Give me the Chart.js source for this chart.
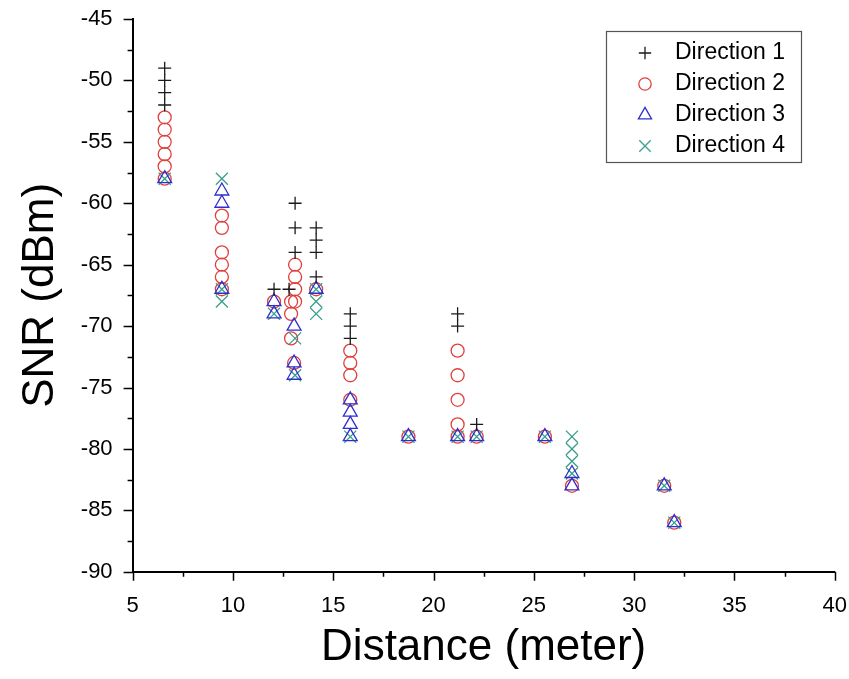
<!DOCTYPE html>
<html><head><meta charset="utf-8">
<script src="https://cdn.jsdelivr.net/npm/chart.js@4/dist/chart.umd.min.js"></script>
<style>html,body{margin:0;padding:0;background:#fff}#wrap{width:849px;height:679px;position:relative}</style>
</head><body><div id="wrap"><canvas id="c"></canvas></div>
<script>
// ---- data ----
const seriesNames = ['Direction 1', 'Direction 2', 'Direction 3', 'Direction 4'];

const dir1Distance = [6.6, 6.6, 6.6, 6.6, 12.05, 12.8, 13.1, 13.1, 13.1, 14.15, 14.15, 14.15, 14.15, 15.85, 15.85, 15.85, 21.2, 21.2, 22.15];
const dir1SNR      = [-49, -50, -51, -52, -67,   -67,  -60,  -62,  -64,  -62,   -63,   -64,   -66,   -69,   -70,   -71,   -69,  -70,  -78];

const dir2Distance = [6.6, 6.6, 6.6, 6.6, 6.6, 6.6, 9.45, 9.45, 9.45, 9.45, 9.45, 9.45, 12.05, 13.1, 13.1, 13.1, 13.1, 12.9, 12.9, 12.9, 13.05, 14.15, 15.85, 15.85, 15.85, 15.85, 18.75, 21.2, 21.2, 21.2, 21.2, 21.2, 22.15, 25.55, 26.9, 31.5, 32.0];
const dir2SNR      = [-53, -54, -55, -56, -57, -58, -61,  -62,  -64,  -65,  -66,  -67,  -68,   -65,  -66,  -67,  -68,  -68,  -69,  -71,  -73,   -67,   -72,   -73,   -74,   -76,   -79,   -72,  -74,  -76,  -78,  -79,  -79,   -79,   -83,  -83,  -86];

const dir3Distance = [6.6, 9.45, 9.45, 9.45, 12.05, 12.05, 13.05, 13.05, 13.05, 14.15, 15.85, 15.85, 15.85, 15.85, 18.75, 21.2, 22.15, 25.55, 26.9, 26.9, 31.5, 32.0];
const dir3SNR      = [-58, -59,  -60,  -67,  -68,   -69,   -70,   -73,   -74,   -67,   -76,   -77,   -78,   -79,   -79,   -79,  -79,   -79,   -82,  -83,  -83,  -86];

const dir4Distance = [6.6, 9.45, 9.45, 9.45, 12.05, 13.1, 13.1, 14.15, 14.15, 14.15, 15.85, 18.75, 21.2, 22.15, 25.55, 26.9, 26.9, 26.9, 26.9, 31.5, 32.0];
const dir4SNR      = [-58, -58,  -67,  -68,  -69,   -71,  -74,  -67,   -68,   -69,   -79,   -79,   -79,  -79,   -79,   -79,  -80,  -81,  -82,  -83,  -86];

const xTickValues = [5, 10, 15, 20, 25, 30, 35, 40];
const yTickValues = [-90, -85, -80, -75, -70, -65, -60, -55, -50, -45];

const seriesColors = ['#1a1a1a', '#e0403c', '#2f2fd0', '#3b9f8e'];
const seriesStyles = ['cross', 'circle', 'triangle', 'crossRot'];
const seriesRadius = [6.5, 6.5, 8, 8.5];
const drawOrder = [0, 3, 1, 2];

function pts(xs, ys) { return xs.map((x, i) => ({x: x, y: ys[i]})); }
const allData = [pts(dir1Distance, dir1SNR), pts(dir2Distance, dir2SNR), pts(dir3Distance, dir3SNR), pts(dir4Distance, dir4SNR)];

function markerCanvas(i) {
  const c = document.createElement('canvas');
  c.width = 60; c.height = 26;
  const ctx = c.getContext('2d');
  ctx.strokeStyle = seriesColors[i];
  ctx.fillStyle = 'rgba(0,0,0,0)';
  ctx.lineWidth = 1.3;
  Chart.helpers.drawPoint(ctx, {pointStyle: seriesStyles[i], radius: seriesRadius[i] * 0.95, rotation: 0, borderWidth: 1.3}, 30 - 8, 13);
  return c;
}

const FONT = 'Arial, "Liberation Sans", sans-serif';

const decor = {
  id: 'decor',
  afterLayout(chart) {
    const lg = chart.legend;
    const w = lg.width, h = lg.height;
    lg.left = 634.5; lg.top = 33.5;
    lg.right = lg.left + w; lg.bottom = lg.top + h;
  },
  afterDraw(chart) {
    const ctx = chart.ctx;
    const xs = chart.scales.x, ys = chart.scales.y;
    const area = chart.chartArea;
    ctx.save();
    ctx.strokeStyle = '#000';
    ctx.lineWidth = 1.5;
    ctx.beginPath();
    // major ticks
    xTickValues.forEach(v => {
      const p = Math.round(xs.getPixelForValue(v)) + 0.5;
      ctx.moveTo(p, area.bottom); ctx.lineTo(p, area.bottom + 9);
    });
    yTickValues.forEach(v => {
      const p = Math.round(ys.getPixelForValue(v)) + 0.5;
      ctx.moveTo(area.left - 9, p); ctx.lineTo(area.left, p);
    });
    // minor ticks
    for (let i = 0; i < xTickValues.length - 1; i++) {
      const p = Math.round(xs.getPixelForValue((xTickValues[i] + xTickValues[i + 1]) / 2)) + 0.5;
      ctx.moveTo(p, area.bottom); ctx.lineTo(p, area.bottom + 5);
    }
    for (let i = 0; i < yTickValues.length - 1; i++) {
      const p = Math.round(ys.getPixelForValue((yTickValues[i] + yTickValues[i + 1]) / 2)) + 0.5;
      ctx.moveTo(area.left - 5, p); ctx.lineTo(area.left, p);
    }
    ctx.stroke();
    // legend frame
    ctx.strokeStyle = '#555';
    ctx.lineWidth = 1.2;
    ctx.strokeRect(606.5, 31.5, 195, 131);
    ctx.restore();
  }
};

new Chart(document.getElementById('c'), {
  type: 'scatter',
  data: {
    datasets: allData.map((d, i) => ({
      label: seriesNames[i],
      data: d,
      pointStyle: seriesStyles[i],
      pointRadius: seriesRadius[i],
      pointHoverRadius: seriesRadius[i],
      borderColor: seriesColors[i],
      backgroundColor: 'rgba(0,0,0,0)',
      pointBorderWidth: 1.3,
      order: drawOrder[i]
    }))
  },
  options: {
    responsive: true,
    maintainAspectRatio: false,
    animation: false,
    layout: {padding: {left: 14, right: 0, top: 19, bottom: 5}},
    plugins: {
      legend: {
        position: 'chartArea',
        align: 'start',
        labels: {
          usePointStyle: true,
          boxWidth: 21,
          boxHeight: 10,
          padding: 8,
          color: '#000',
          font: {family: FONT, size: 23},
          sort: (a, b) => a.datasetIndex - b.datasetIndex,
          generateLabels(chart) {
            const items = Chart.defaults.plugins.legend.labels.generateLabels(chart);
            items.forEach(it => { it.pointStyle = markerCanvas(it.datasetIndex); });
            return items;
          }
        }
      },
      tooltip: {enabled: false}
    },
    scales: {
      x: {
        type: 'linear', min: 5, max: 40,
        afterBuildTicks(s) { s.ticks = xTickValues.map(v => ({value: v})); },
        ticks: {color: '#000', font: {family: FONT, size: 22}, padding: 2, maxRotation: 0},
        grid: {drawOnChartArea: false, drawTicks: true, tickLength: 19, tickColor: 'rgba(0,0,0,0)'},
        border: {display: true, color: '#000', width: 2},
        title: {display: true, text: 'Distance (meter)', color: '#000', font: {family: FONT, size: 44}, padding: {top: 0, bottom: 0}}
      },
      y: {
        type: 'linear', min: -90, max: -45,
        afterBuildTicks(s) { s.ticks = yTickValues.map(v => ({value: v})); },
        ticks: {color: '#000', font: {family: FONT, size: 22}, padding: 4},
        grid: {drawOnChartArea: false, drawTicks: true, tickLength: 16, tickColor: 'rgba(0,0,0,0)'},
        border: {display: true, color: '#000', width: 2},
        title: {display: true, text: 'SNR (dBm)', color: '#000', font: {family: FONT, size: 44}, padding: {top: 0, bottom: 10}}
      }
    }
  },
  plugins: [decor]
});
</script>
</body></html>
